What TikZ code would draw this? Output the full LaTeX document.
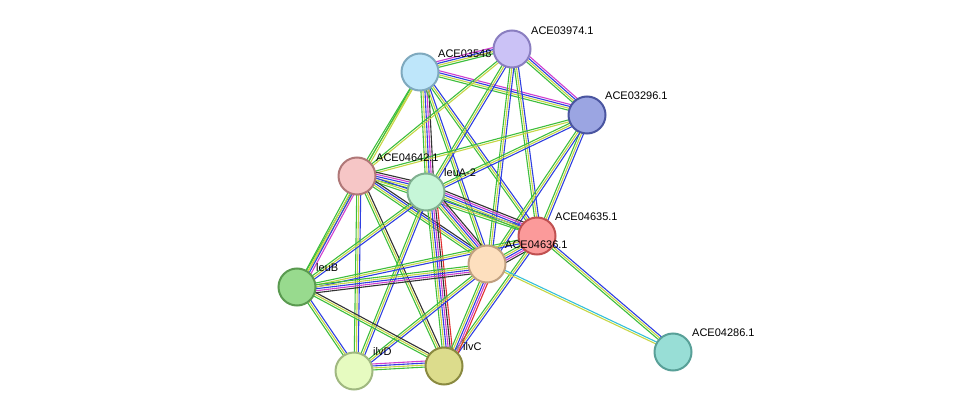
\documentclass[tikz,border=0pt]{standalone}
\usepackage{fontspec}
\setmainfont{Liberation Sans}
\usetikzlibrary{calc}
\definecolor{tg}{HTML}{3DBE3D}
\definecolor{ty}{HTML}{C6D645}
\definecolor{tb}{HTML}{2F3FE0}
\definecolor{tm}{HTML}{CF3FCF}
\definecolor{tk}{HTML}{333333}
\definecolor{tc}{HTML}{35C0D8}
\definecolor{tr}{HTML}{E03030}
\definecolor{c1}{HTML}{BEE6FA}\definecolor{d1}{HTML}{7FA9BE}
\definecolor{c2}{HTML}{CBC2F6}\definecolor{d2}{HTML}{8A7EC0}
\definecolor{c3}{HTML}{9BA5E2}\definecolor{d3}{HTML}{4A55A0}
\definecolor{c4}{HTML}{F6C6C6}\definecolor{d4}{HTML}{B07878}
\definecolor{c5}{HTML}{C6F6D8}\definecolor{d5}{HTML}{80B090}
\definecolor{c6}{HTML}{FB9A9A}\definecolor{d6}{HTML}{C05050}
\definecolor{c7}{HTML}{FDDFBE}\definecolor{d7}{HTML}{C0A080}
\definecolor{c8}{HTML}{98DA8E}\definecolor{d8}{HTML}{5A9A50}
\definecolor{c9}{HTML}{E6FBC0}\definecolor{d9}{HTML}{A0B880}
\definecolor{c10}{HTML}{DCDC8C}\definecolor{d10}{HTML}{8A8A40}
\definecolor{c11}{HTML}{98DED6}\definecolor{d11}{HTML}{58A098}
\newcommand{\ed}[3]{%
  \foreach \c [count=\i] in {#3}{%
    \pgfmathsetmacro{\off}{(\i-1)*2}
    \draw[\c,line width=1.1pt] ($(#1)!\off pt!90:(#2)$) -- ($(#2)!\off pt!-90:(#1)$);
  }}
\tikzset{prot/.style={circle,draw,line width=2pt,minimum size=37pt,inner sep=0pt},
 lab/.style={font=\fontsize{11}{12}\selectfont,anchor=south west,inner sep=0pt}}
\begin{document}
\begin{tikzpicture}[x=1pt,y=-1pt]
\useasboundingbox (0,0) rectangle (976,417);
\coordinate (n1) at (420,72);
\coordinate (n2) at (512,49);
\coordinate (n3) at (587,115);
\coordinate (n4) at (357,176);
\coordinate (n5) at (426,192);
\coordinate (n6) at (537,236);
\coordinate (n7) at (487,264);
\coordinate (n8) at (297,287);
\coordinate (n9) at (354,371);
\coordinate (n10) at (444,366);
\coordinate (n11) at (673,352);
% edges
\ed{n1}{n2}{tg,ty,tb,tm}
\ed{n1}{n3}{tg,ty,tb,tm}
\ed{n2}{n3}{tg,ty,tb,tm}
\ed{n1}{n4}{tg,ty}
\ed{n1}{n5}{tg,ty,tb,tm,tk}
\ed{n1}{n6}{tg,ty,tb}
\ed{n1}{n7}{tg,ty,tb}
\ed{n1}{n8}{tg,ty}
\ed{n2}{n4}{tg,ty}
\ed{n2}{n5}{tg,ty,tb}
\ed{n2}{n6}{tg,ty,tb}
\ed{n2}{n7}{tg,ty,tb}
\ed{n3}{n4}{tg,ty}
\ed{n3}{n5}{tg,ty,tb}
\ed{n3}{n6}{tg,ty,tb}
\ed{n3}{n7}{tg,ty,tb}
\ed{n4}{n5}{tg,ty,tb,tm,tk}
\ed{n4}{n6}{tg,ty,tb}
\ed{n4}{n7}{tg,ty,tb,tk}
\ed{n4}{n8}{tg,ty,tb,tm}
\ed{n4}{n9}{tg,ty,tb}
\ed{n4}{n10}{tg,ty,tk}
\ed{n5}{n6}{tg,ty,tb,tm,tk}
\ed{n5}{n7}{tg,ty,tb,tm,tk}
\ed{n5}{n8}{tg,ty,tb}
\ed{n5}{n9}{tg,ty,tb}
\ed{n5}{n10}{tg,ty,tb,tm,tk,tr}
\ed{n6}{n7}{tg,ty,tb,tm,tk}
\ed{n6}{n8}{tg,ty,tb}
\ed{n6}{n10}{tg,ty,tb}
\ed{n6}{n11}{tg,ty,tb}
\ed{n7}{n8}{tg,ty,tb,tm,tk}
\ed{n7}{n9}{tg,ty,tb}
\ed{n7}{n10}{tg,ty,tb,tm,tr}
\ed{n7}{n11}{ty,tc}
\ed{n8}{n9}{tg,ty,tb}
\ed{n8}{n10}{tg,ty,tk}
\ed{n9}{n10}{tg,ty,tb,tm}
% nodes
\node[prot,draw=d1,fill=c1] (a1) at (n1) {};
\node[prot,draw=d2,fill=c2] (a2) at (n2) {};
\node[prot,draw=d3,fill=c3] (a3) at (n3) {};
\node[prot,draw=d4,fill=c4] (a4) at (n4) {};
\node[prot,draw=d5,fill=c5] (a5) at (n5) {};
\node[prot,draw=d6,fill=c6] (a6) at (n6) {};
\node[prot,draw=d7,fill=c7] (a7) at (n7) {};
\node[prot,draw=d8,fill=c8] (a8) at (n8) {};
\node[prot,draw=d9,fill=c9] (a9) at (n9) {};
\node[prot,draw=d10,fill=c10] (a10) at (n10) {};
\node[prot,draw=d11,fill=c11] (a11) at (n11) {};
\node[lab] at (438,58) {ACE03548};
\node[lab] at (531,35) {ACE03974.1};
\node[lab] at (605,100) {ACE03296.1};
\node[lab] at (376,162) {ACE04642.1};
\node[lab] at (444,177) {leuA-2};
\node[lab] at (555,221) {ACE04635.1};
\node[lab] at (505,249) {ACE04636.1};
\node[lab] at (316,272) {leuB};
\node[lab] at (373,356) {ilvD};
\node[lab] at (463,351) {ilvC};
\node[lab] at (692,337) {ACE04286.1};
\end{tikzpicture}
\end{document}
